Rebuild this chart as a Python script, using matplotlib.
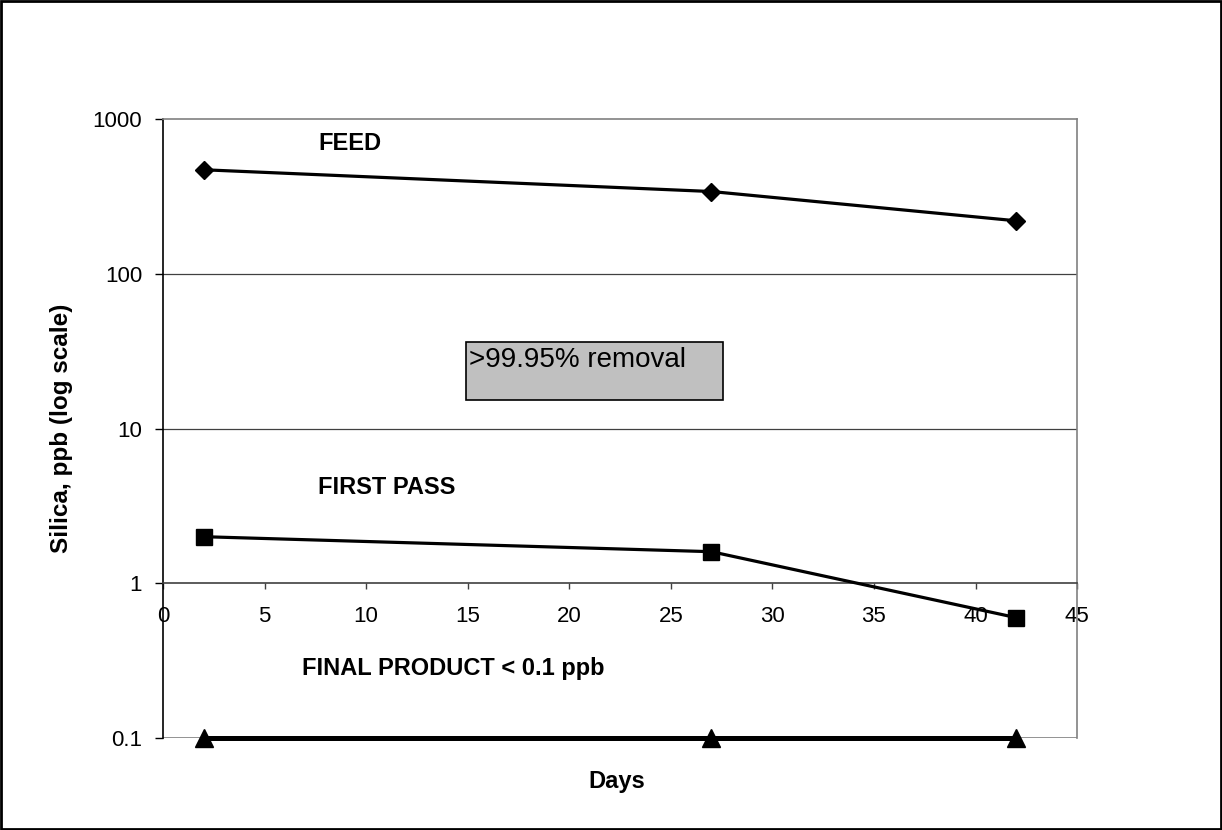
import matplotlib
matplotlib.use('Agg')
import matplotlib.pyplot as plt
import matplotlib.ticker as ticker
from matplotlib.patches import Rectangle

plt.rcParams['font.family'] = ['Liberation Sans', 'DejaVu Sans']

days = [2, 27, 42]
feed = [470, 340, 220]
first_pass = [2.0, 1.6, 0.6]
final_product = [0.1, 0.1, 0.1]

fig = plt.figure(figsize=(12.22, 8.30), dpi=100)
ax = fig.add_axes([0.1334, 0.1108, 0.748, 0.7458])

ax.plot(days, feed, color='black', lw=2.3, marker='D', ms=9.5, zorder=5)
ax.plot(days, first_pass, color='black', lw=2.3, marker='s', ms=11, zorder=5)
ax.plot(days, final_product, color='black', lw=3.6, marker='^', ms=12.5, zorder=5, clip_on=False)

ax.set_yscale('log')
ax.set_ylim(0.1, 1000)
ax.set_xlim(0, 45)
ax.yaxis.set_major_locator(ticker.FixedLocator([0.1, 1, 10, 100, 1000]))
ax.yaxis.set_major_formatter(ticker.FixedFormatter(['0.1', '1', '10', '100', '1000']))
ax.yaxis.set_minor_locator(ticker.NullLocator())
ax.xaxis.set_major_locator(ticker.MultipleLocator(5))

# horizontal gridlines
for v in [10, 100]:
    ax.axhline(v, color='#404040', lw=0.9, zorder=1)
ax.axhline(0.1, color='#808080', lw=1.2, zorder=1)

ax.spines['bottom'].set_position(('data', 1))
ax.spines['bottom'].set_color('#404040')
ax.spines['top'].set_color('#808080')
ax.spines['right'].set_color('#808080')
ax.spines['left'].set_color('black')
for s in ax.spines.values():
    s.set_linewidth(1.2)

ax.tick_params(axis='y', direction='out', length=6, width=1, pad=9, labelsize=16)
ax.tick_params(axis='x', direction='out', length=4.5, width=1, pad=12, labelsize=16, color='#404040')

ax.set_ylabel('Silica, ppb (log scale)', fontsize=17.5, fontweight='bold', labelpad=14)
fig.text(0.505, 1 - 781 / 830, 'Days', fontsize=17, fontweight='bold', ha='center', va='center')

ax.text(0.1696, 0.961, 'FEED', transform=ax.transAxes, fontsize=17, fontweight='bold', va='center')
ax.text(0.1696, 0.4055, 'FIRST PASS', transform=ax.transAxes, fontsize=17, fontweight='bold', va='center')
ax.text(0.152, 0.113, 'FINAL PRODUCT < 0.1 ppb', transform=ax.transAxes, fontsize=17, fontweight='bold', va='center')

ax.add_patch(Rectangle((0.3315, 0.546), 0.281, 0.094, transform=ax.transAxes,
                       facecolor='#c0c0c0', edgecolor='black', lw=1.2, zorder=6))
ax.text(0.335, 0.631, '>99.95% removal', transform=ax.transAxes, fontsize=20,
        va='top', ha='left', zorder=7)

fig.patches.append(Rectangle((0.001, 0.001), 0.998, 0.998, transform=fig.transFigure,
                             fill=False, edgecolor='black', lw=2))

plt.savefig('out.png', dpi=100)
